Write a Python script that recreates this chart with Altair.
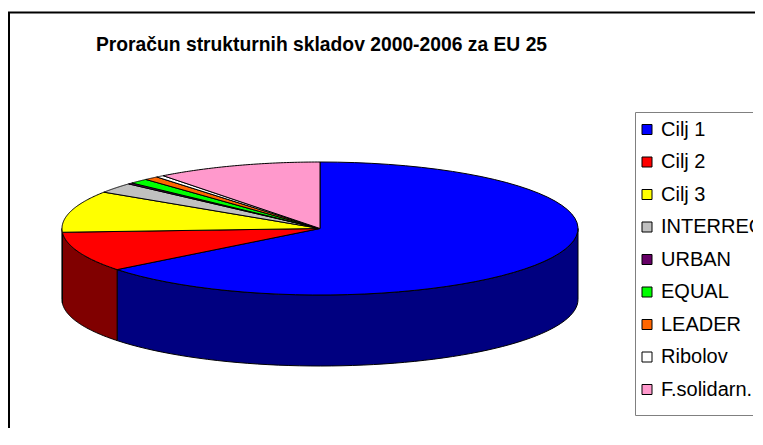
import altair as alt
import pandas as pd

# ---- data ----
categories = ["Cilj 1", "Cilj 2", "Cilj 3", "INTERREG", "URBAN", "EQUAL", "LEADER", "Ribolov", "F.solidarn."]
values = [64.4, 9.7, 10.1, 2.5, 0.3, 1.2, 0.9, 0.5, 10.4]
top_colors = ["#0000FF", "#FF0000", "#FFFF00", "#C0C0C0", "#660066", "#00FF00", "#FF6600", "#FFFFFF", "#FF99CC"]
side_colors = ["#000080", "#800000", "#808000", "#606060", "#330033", "#008000", "#803300", "#808080", "#804C66"]
title_text = "Proračun strukturnih skladov 2000-2006 za EU 25"

df = pd.DataFrame({"kategorija": categories, "vrednost": values, "red": list(range(len(categories)))})

# ---- layout ----
W, H = 747, 420
CX, CY = 312, 220.5
RX, RY = 258, 66.5
DEPTH = 71
N = 60
D = DEPTH / RY
ROW0, ROWSTEP = 121.5, 32.5

xscale = alt.Scale(domain=[-CX / RX, (W - CX) / RX], nice=False, zero=False)
yscale = alt.Scale(domain=[(CY - H) / RY, CY / RY], nice=False, zero=False)
color_top = alt.Scale(domain=categories, range=top_colors)

base = alt.Chart(df).transform_window(
    cum="sum(vrednost)", sort=[alt.SortField("red")]
).transform_joinaggregate(
    total="sum(vrednost)"
).transform_calculate(
    a0="2*PI*(datum.cum - datum.vrednost)/datum.total",
    a1="2*PI*datum.cum/datum.total",
)

# side walls (front half only)
side = base.transform_calculate(
    b0="max(datum.a0, PI/2)", b1="min(datum.a1, 3*PI/2)"
).transform_filter(
    "datum.b1 > datum.b0"
).transform_calculate(
    s=f"sequence(0, {2 * N + 3})"
).transform_flatten(
    ["s"]
).transform_calculate(
    ang=f"datum.s <= {N} ? datum.b0 + (datum.b1 - datum.b0) * datum.s / {N} : "
        f"(datum.s <= {2 * N + 1} ? datum.b1 - (datum.b1 - datum.b0) * (datum.s - {N + 1}) / {N} : datum.b0)",
    low=f"(datum.s > {N} && datum.s <= {2 * N + 1}) ? 1 : 0",
).transform_calculate(
    px="sin(datum.ang)",
    py=f"cos(datum.ang) - datum.low * {D}",
).mark_line(filled=True, stroke="black", strokeWidth=1, strokeJoin="round").encode(
    x=alt.X("px:Q", scale=xscale, axis=None),
    y=alt.Y("py:Q", scale=yscale, axis=None),
    fill=alt.Fill("kategorija:N", scale=alt.Scale(domain=categories, range=side_colors), legend=None),
    detail="kategorija:N",
    order=alt.Order("s:Q"),
)

# top surface
top = base.transform_calculate(
    s=f"sequence(0, {N + 3})"
).transform_flatten(
    ["s"]
).transform_calculate(
    ang=f"datum.a0 + (datum.a1 - datum.a0) * (datum.s - 1) / {N}",
    edge=f"(datum.s > 0 && datum.s < {N + 2}) ? 1 : 0",
).transform_calculate(
    px="datum.edge ? sin(datum.ang) : 0",
    py="datum.edge ? cos(datum.ang) : 0",
).mark_line(filled=True, stroke="black", strokeWidth=1, strokeJoin="round").encode(
    x=alt.X("px:Q", scale=xscale, axis=None),
    y=alt.Y("py:Q", scale=yscale, axis=None),
    color=alt.Color("kategorija:N", scale=color_top, legend=None),
    detail="kategorija:N",
    order=alt.Order("s:Q"),
)

pie = alt.layer(side, top)

# ---- legend built from the category list ----
leg_y = alt.Scale(domain=[-ROW0 / ROWSTEP, (H - ROW0) / ROWSTEP], reverse=True, nice=False, zero=False)
frame_df = pd.DataFrame({"k": [0]})
leg_box = alt.Chart(frame_df).mark_rect(fill="white", stroke="#808080", strokeWidth=1).encode(
    x=alt.value(627.5), x2=alt.value(W + 20), y=alt.value(104.5), y2=alt.value(407.5)
)
leg_sym = alt.Chart(df).mark_square(size=100, filled=True, stroke="black", strokeWidth=1, opacity=1).encode(
    x=alt.value(639),
    y=alt.Y("red:Q", scale=leg_y, axis=None),
    color=alt.Color("kategorija:N", scale=color_top, legend=None),
)
leg_txt = alt.Chart(df).mark_text(
    align="left", baseline="middle", font="Liberation Sans", fontSize=20, color="black"
).encode(
    x=alt.value(653),
    y=alt.Y("red:Q", scale=leg_y, axis=None),
    text="kategorija:N",
)
legend = alt.layer(leg_box, leg_sym, leg_txt)

edge_cover = alt.Chart(frame_df).mark_rule(color="white", strokeWidth=4).encode(
    x=alt.value(W), y=alt.value(0), y2=alt.value(H + 40)
)
left_rule = alt.Chart(frame_df).mark_rule(color="black", strokeWidth=2).encode(
    x=alt.value(1), y=alt.value(4), y2=alt.value(H + 40)
)
top_rule = alt.Chart(frame_df).mark_rule(color="black", strokeWidth=2).encode(
    x=alt.value(0), x2=alt.value(W + 20), y=alt.value(4.5)
)
title = alt.Chart(frame_df).mark_text(
    text=title_text, font="Liberation Sans", fontSize=19.3, fontWeight="bold",
    align="center", baseline="alphabetic", color="black"
).encode(x=alt.value(313.5), y=alt.value(43))

chart = alt.layer(pie, legend, edge_cover, left_rule, top_rule, title).resolve_scale(
    y="independent"
).properties(
    width=W, height=H, padding=0, autosize=alt.AutoSizeParams(type="none")
).configure_view(stroke="transparent", strokeWidth=0)

chart.save("out.html", embed_options={"renderer": "svg", "actions": False})
